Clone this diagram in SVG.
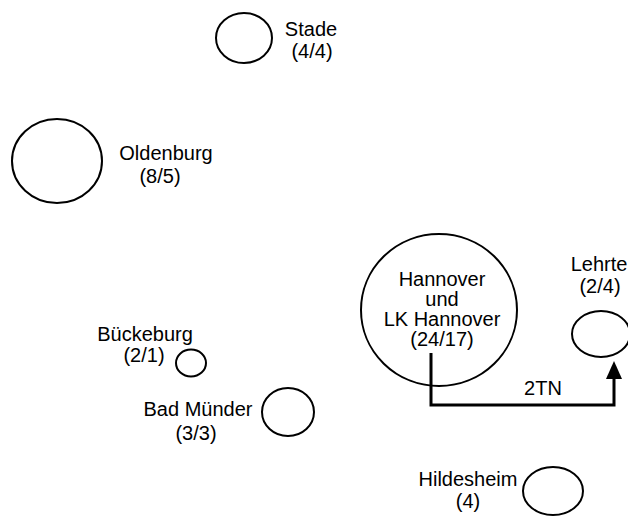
<svg xmlns="http://www.w3.org/2000/svg" width="628" height="516" viewBox="0 0 628 516">
<style>
.n{fill:none;stroke:#000;stroke-width:2}
text{font-family:"Liberation Sans",Arial,sans-serif;font-size:20px;fill:#000}
.m{text-anchor:middle}
.c{fill:none;stroke:#000;stroke-width:3}
</style>
<rect width="628" height="516" fill="#fff"/>
<g id="stade">
<ellipse class="n" cx="244" cy="38" rx="28" ry="25"/>
<text class="m" x="311" y="36">Stade</text>
<text class="m" x="312" y="58">(4/4)</text>
</g>
<g id="oldenburg">
<ellipse class="n" cx="57" cy="161" rx="45" ry="42"/>
<text class="m" x="166" y="160">Oldenburg</text>
<text class="m" x="160" y="183">(8/5)</text>
</g>
<g id="hannover">
<ellipse class="n" cx="439" cy="310" rx="78" ry="76"/>
<text class="m" x="442" y="286">Hannover</text>
<text class="m" x="442" y="306">und</text>
<text class="m" x="442" y="326">LK Hannover</text>
<text class="m" x="442" y="346">(24/17)</text>
</g>
<g id="lehrte">
<ellipse class="n" cx="601" cy="334" rx="29" ry="23"/>
<text class="m" x="599" y="271">Lehrte</text>
<text class="m" x="600" y="293">(2/4)</text>
</g>
<g id="bueckeburg">
<ellipse class="n" cx="191" cy="363" rx="15" ry="13.5"/>
<text class="m" x="145" y="341">Bückeburg</text>
<text class="m" x="144" y="362">(2/1)</text>
</g>
<g id="badmuender">
<ellipse class="n" cx="288" cy="412" rx="26" ry="24"/>
<text class="m" x="198" y="416">Bad Münder</text>
<text class="m" x="196" y="440">(3/3)</text>
</g>
<g id="hildesheim">
<ellipse class="n" cx="553" cy="491" rx="30" ry="24"/>
<text class="m" x="468" y="486">Hildesheim</text>
<text class="m" x="468" y="508">(4)</text>
</g>
<g id="connectors">
<path class="c" d="M431,353 V405 H614 V377"/>
<polygon points="614,361 622,379 606,379" fill="#000"/>
<text class="m" x="543" y="395">2TN</text>
</g>
</svg>
